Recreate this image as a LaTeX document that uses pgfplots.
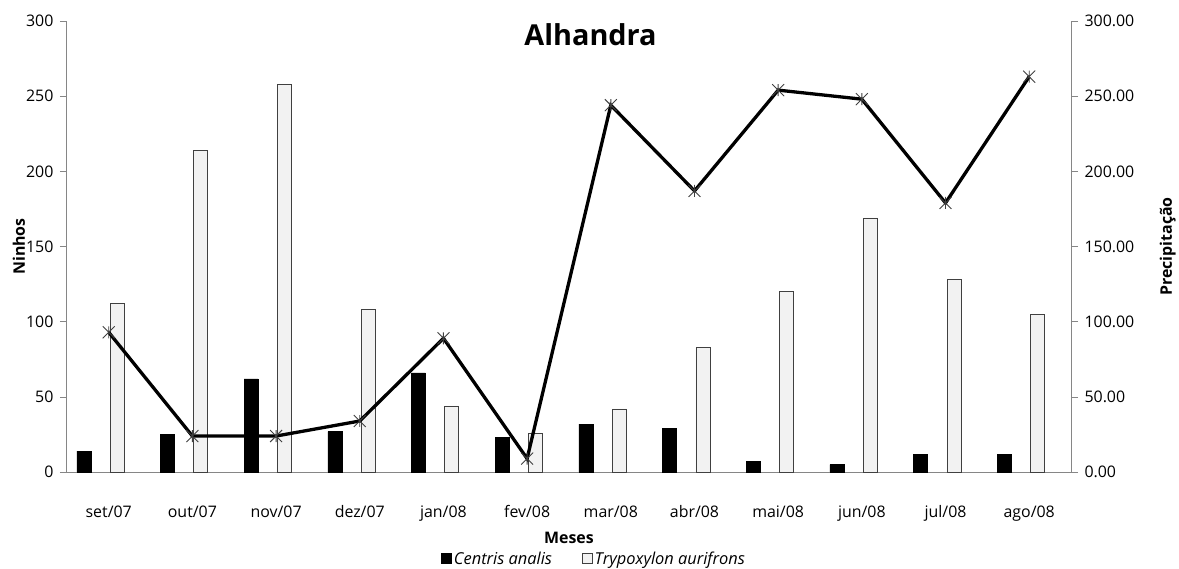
\documentclass[border=0pt]{standalone}
\usepackage{pgfplots}
\pgfplotsset{compat=1.18}
\usepackage{fontspec}
\setmainfont{Open Sans}
\definecolor{axgray}{HTML}{868686}
\definecolor{barfill}{HTML}{F2F2F2}
\definecolor{baredge}{HTML}{404040}
\definecolor{markgray}{HTML}{404040}
\pgfdeclareplotmark{xstar}{%
  \pgfpathmoveto{\pgfpoint{-\pgfplotmarksize}{-\pgfplotmarksize}}%
  \pgfpathlineto{\pgfpoint{\pgfplotmarksize}{\pgfplotmarksize}}%
  \pgfpathmoveto{\pgfpoint{-\pgfplotmarksize}{\pgfplotmarksize}}%
  \pgfpathlineto{\pgfpoint{\pgfplotmarksize}{-\pgfplotmarksize}}%
  \pgfpathmoveto{\pgfpoint{0pt}{-\pgfplotmarksize}}%
  \pgfpathlineto{\pgfpoint{0pt}{\pgfplotmarksize}}%
  \pgfusepathqstroke}
\newcommand{\tickfont}{\fontsize{16}{19}\selectfont}
\begin{document}
\begin{tikzpicture}
\pgfplotsset{
  common/.style={
    scale only axis, width=1006bp, height=452bp,
    at={(0,0)}, anchor=south west,
    xmin=-0.5, xmax=11.5, ymin=0, ymax=300,
    ytick={0,50,...,300},
    tick align=outside,
    major tick length=7bp,
    every tick/.style={axgray, line width=0.8bp},
    axis line style={axgray, line width=0.8bp},
    ticklabel style={font=\tickfont},
    /pgf/number format/assume math mode=true,
    label style={font=\tickfont\bfseries},
  }
}
\begin{axis}[common,
  axis x line*=bottom, axis y line*=left,
  xtick={0,...,11},
  x tick style={draw=none},
  xticklabels={set/07,out/07,nov/07,dez/07,jan/08,fev/08,mar/08,abr/08,mai/08,jun/08,jul/08,ago/08},
  xticklabel style={anchor=base, yshift=-38bp},
  yticklabel style={anchor=east, xshift=-3bp},
  xlabel={Meses},
  xlabel style={at={(axis description cs:0.5,0)}, anchor=base, yshift=-71bp},
  ylabel={Ninhos},
  ylabel style={at={(axis description cs:0,0.5)}, anchor=base, yshift=42bp},
  title={Alhandra},
  title style={at={(axis description cs:0.5215,1)}, anchor=base, yshift=-31bp, font=\fontsize{29}{34}\selectfont\bfseries},
  legend columns=2,
  legend style={at={(axis description cs:0.525,0)}, anchor=south, yshift=-96bp, draw=none, fill=none, inner sep=0pt,
    font=\fontsize{16.5}{19}\selectfont\itshape, /tikz/every even column/.append style={column sep=28bp}},
  legend image code/.code={\draw[#1, line width=0.8bp] (0bp,-4.5bp) rectangle (10bp,5.5bp);},
]
\addplot[ybar, bar width=14bp, bar shift=-25bp, fill=black, draw=black]
  coordinates {(0,14) (1,25) (2,62) (3,27) (4,66) (5,23) (6,32) (7,29) (8,7) (9,5) (10,12) (11,12)};
\addlegendentry{Centris analis}
\addplot[ybar, bar width=14bp, bar shift=8.5bp, fill=barfill, draw=baredge, line width=0.9bp]
  coordinates {(0,112) (1,214) (2,258) (3,108) (4,44) (5,26) (6,42) (7,83) (8,120) (9,169) (10,128) (11,105)};
\addlegendentry{Trypoxylon aurifrons}
\end{axis}
\begin{axis}[common,
  axis x line=none, axis y line*=right,
  yticklabel style={anchor=west, xshift=3bp, /pgf/number format/.cd, fixed, fixed zerofill, precision=2},
  ylabel={Precipitação},
  ylabel style={at={(axis description cs:1,0.5)}, anchor=base, yshift=-101bp},
]
\addplot[black, line width=3.3bp, mark=xstar, mark size=6bp,
  mark options={markgray, line width=0.9bp}]
  coordinates {(0,93) (1,24) (2,24) (3,34) (4,89) (5,9) (6,244) (7,187) (8,254) (9,248) (10,179) (11,263)};
\end{axis}
\useasboundingbox (-67bp,-97bp) rectangle (1112bp,473bp);
\end{tikzpicture}
\end{document}
